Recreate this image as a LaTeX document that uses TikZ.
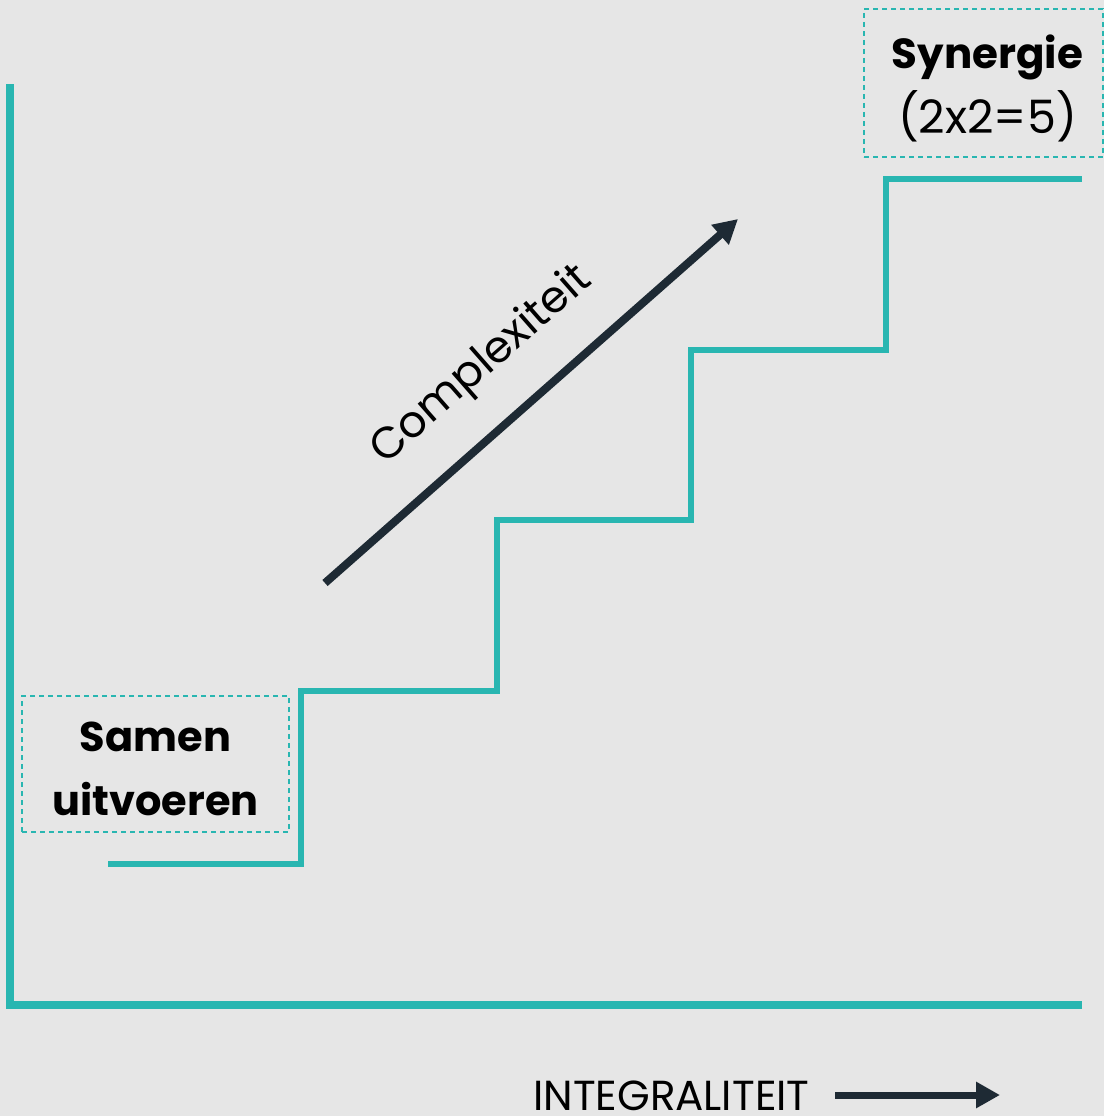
\documentclass[tikz,border=0pt]{standalone}
\usepackage{fontspec}
\setmainfont{Poppins}
\usepackage{color}
\definecolor{myteal}{RGB}{41,182,177}
\definecolor{mydark}{RGB}{30,42,52}
\definecolor{mygray}{RGB}{230,230,230}
\usetikzlibrary{arrows.meta,positioning}

\begin{document}
\begin{tikzpicture}[
  x=1pt,
  y=-1pt,
  mystair/.style={
    draw=myteal,
    line width=6pt
    },
  myaxis/.style={
    draw=myteal,
    line width=8pt
    },
  mybox/.style={
    draw=myteal,
    line width=1.2pt,
    dash pattern=on 5pt off 4pt,
    inner sep=0pt,
    minimum width=#1
    },
  mylabel/.style={
    align=center,
    inner sep=0pt
    },
  myarrow/.style={
    draw=mydark,
    line width=#1,
    -{Triangle[length=24pt,width=25pt]}
    }
]

\fill[mygray] (0,0) rectangle (1104,1116);
\useasboundingbox (0,0) rectangle (1104,1116);

% axes
\coordinate (ytop) at (10,84);
\coordinate (origin) at (10,1005);
\coordinate (xend) at (1082,1005);
\draw[myaxis] (ytop) -- (origin) -- (xend);

% stairs
\coordinate (s0) at (108,864);
\coordinate (s1) at (301,691);
\coordinate (s2) at (497,520);
\coordinate (s3) at (691,350);
\coordinate (s4) at (886,179);
\coordinate (s5) at (1082,179);
\draw[mystair] (s0) -| (s1) -| (s2) -| (s3) -| (s4) -- (s5);

% labels
\node[mybox=267pt, minimum height=136pt] (samen) at (155.5,764) {};
\node[mylabel, font=\bfseries\fontsize{41.5}{64}\selectfont]
  (samentext) at ([yshift=-5pt]samen.center) {Samen\\uitvoeren};

\node[mybox=239pt, minimum height=148pt] (synergie) at (983.5,83) {};
\node[mylabel, font=\fontsize{42}{65}\selectfont]
  (synergietext) at ([xshift=4pt,yshift=-5pt]synergie.center)
  {{\bfseries Synergie}\\{\fontsize{46}{65}\selectfont (2x2=5)}};

% complexity arrow
\coordinate (cstart) at (325,583);
\coordinate (cend) at (738,219);
\draw[myarrow=8pt] (cstart) -- (cend);
\node[rotate=41.3, font=\fontsize{44}{50}\selectfont, inner sep=0pt]
  (complex) at (482,366) {Complexiteit};

% integraliteit
\node[anchor=base west, inner sep=0pt, font=\fontsize{42}{44}\selectfont]
  (integr) at (533,1110) {INTEGRALITEIT};
\coordinate (istart) at (835,1095);
\coordinate (iend) at (1000,1095);
\draw[myarrow=7pt] (istart) -- (iend);

\end{tikzpicture}
\end{document}
